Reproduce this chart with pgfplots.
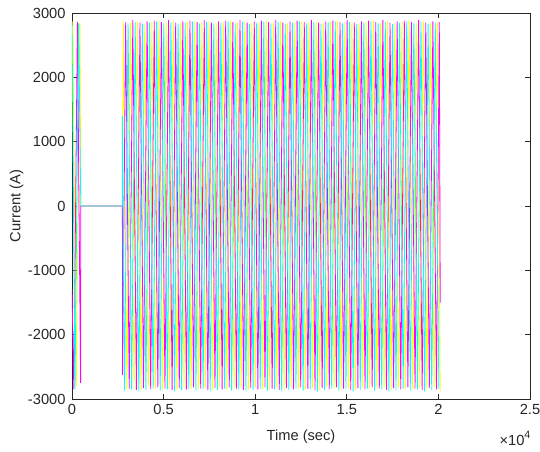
\documentclass[border=0pt]{standalone}
\usepackage{pgfplots}
\pgfplotsset{compat=1.18}
\usepackage{fontspec}
\setmainfont{Liberation Sans}
\definecolor{axgray}{rgb}{0.15,0.15,0.15}
\definecolor{phA}{rgb}{1,1,0}
\definecolor{phB}{rgb}{1,0,1}
\definecolor{phC}{rgb}{0,1,1}
\begin{document}
\fontsize{11}{13}\selectfont
\begin{tikzpicture}
\useasboundingbox (-54pt,-39pt) rectangle (351pt,299.25pt);
\begin{axis}[
  at={(0,0)}, anchor=south west,
  scale only axis, width=343.5pt, height=289.5pt,
  xmin=0, xmax=25000, ymin=-3000, ymax=3000,
  xtick={0,5000,10000,15000,20000,25000},
  xticklabels={0,0.5,1,1.5,2,2.5},
  ytick={-3000,-2000,-1000,0,1000,2000,3000},
  yticklabels={-3000,-2000,-1000,0,1000,2000,3000},
  scaled x ticks=false,
  tick align=inside, major tick length=4pt,
  axis line style={axgray, line width=0.5pt},
  every tick/.style={axgray, line width=0.5pt},
  tick label style={text=axgray, font=\fontsize{11}{13}\selectfont},
  yticklabel style={xshift=-1pt},
  label style={text=axgray, font=\fontsize{11}{13}\selectfont},
  xlabel={Time (sec)}, ylabel={Current (A)},
  xlabel style={at={([yshift=-28.5pt]axis description cs:0.5,0)}, anchor=center},
  ylabel style={at={([xshift=-41.5pt]axis description cs:0,0.5)}, anchor=center},
]
% phase a
\addplot[phA, line width=0.6pt] coordinates {
(0,2200)(40,2870)(235,-2800)(430,2850)(480,0)(2750,0)
(2800,2880)(2995,-2850)(3190,2850)(3385,-2830)(3580,2870)(3775,-2860)
(3970,2840)(4165,-2820)(4360,2860)(4555,-2845)(4750,2880)(4945,-2850)
(5140,2850)(5335,-2830)(5530,2870)(5725,-2860)(5920,2840)(6115,-2820)
(6310,2860)(6505,-2845)(6700,2880)(6895,-2850)(7090,2850)(7285,-2830)
(7480,2870)(7675,-2860)(7870,2840)(8065,-2820)(8260,2860)(8455,-2845)
(8650,2880)(8845,-2850)(9040,2850)(9235,-2830)(9430,2870)(9625,-2860)
(9820,2840)(10015,-2820)(10210,2860)(10405,-2845)(10600,2880)(10795,-2850)
(10990,2850)(11185,-2830)(11380,2870)(11575,-2860)(11770,2840)(11965,-2820)
(12160,2860)(12355,-2845)(12550,2880)(12745,-2850)(12940,2850)(13135,-2830)
(13330,2870)(13525,-2860)(13720,2840)(13915,-2820)(14110,2860)(14305,-2845)
(14500,2880)(14695,-2850)(14890,2850)(15085,-2830)(15280,2870)(15475,-2860)
(15670,2840)(15865,-2820)(16060,2860)(16255,-2845)(16450,2880)(16645,-2850)
(16840,2850)(17035,-2830)(17230,2870)(17425,-2860)(17620,2840)(17815,-2820)
(18010,2860)(18205,-2845)(18400,2880)(18595,-2850)(18790,2850)(18985,-2830)
(19180,2870)(19375,-2860)(19570,2840)(19765,-2820)(19960,2860)(20100,-2880)
};
% phase b
\addplot[phB, line width=0.6pt] coordinates {
(0,-1300)(100,-2850)(295,2860)(470,-2750)(480,0)(2750,0)(2760,-2630)
(2930,2860)(3125,-2840)(3320,2890)(3515,-2860)(3710,2850)(3905,-2830)
(4100,2870)(4295,-2850)(4490,2880)(4685,-2820)(4880,2860)(5075,-2840)
(5270,2890)(5465,-2860)(5660,2850)(5855,-2830)(6050,2870)(6245,-2850)
(6440,2880)(6635,-2820)(6830,2860)(7025,-2840)(7220,2890)(7415,-2860)
(7610,2850)(7805,-2830)(8000,2870)(8195,-2850)(8390,2880)(8585,-2820)
(8780,2860)(8975,-2840)(9170,2890)(9365,-2860)(9560,2850)(9755,-2830)
(9950,2870)(10145,-2850)(10340,2880)(10535,-2820)(10730,2860)(10925,-2840)
(11120,2890)(11315,-2860)(11510,2850)(11705,-2830)(11900,2870)(12095,-2850)
(12290,2880)(12485,-2820)(12680,2860)(12875,-2840)(13070,2890)(13265,-2860)
(13460,2850)(13655,-2830)(13850,2870)(14045,-2850)(14240,2880)(14435,-2820)
(14630,2860)(14825,-2840)(15020,2890)(15215,-2860)(15410,2850)(15605,-2830)
(15800,2870)(15995,-2850)(16190,2880)(16385,-2820)(16580,2860)(16775,-2840)
(16970,2890)(17165,-2860)(17360,2850)(17555,-2830)(17750,2870)(17945,-2850)
(18140,2880)(18335,-2820)(18530,2860)(18725,-2840)(18920,2890)(19115,-2860)
(19310,2850)(19505,-2830)(19700,2870)(19895,-2850)(20050,2860)(20100,-1500)
};
% phase c
\addplot[phC, line width=0.6pt] coordinates {
(0,2850)(165,-2850)(360,2840)(480,0)(2750,0)(2750,1400)
(2865,-2870)(3060,2840)(3255,-2850)(3450,2860)(3645,-2880)(3840,2830)
(4035,-2860)(4230,2850)(4425,-2840)(4620,2870)(4815,-2870)(5010,2840)
(5205,-2850)(5400,2860)(5595,-2880)(5790,2830)(5985,-2860)(6180,2850)
(6375,-2840)(6570,2870)(6765,-2870)(6960,2840)(7155,-2850)(7350,2860)
(7545,-2880)(7740,2830)(7935,-2860)(8130,2850)(8325,-2840)(8520,2870)
(8715,-2870)(8910,2840)(9105,-2850)(9300,2860)(9495,-2880)(9690,2830)
(9885,-2860)(10080,2850)(10275,-2840)(10470,2870)(10665,-2870)(10860,2840)
(11055,-2850)(11250,2860)(11445,-2880)(11640,2830)(11835,-2860)(12030,2850)
(12225,-2840)(12420,2870)(12615,-2870)(12810,2840)(13005,-2850)(13200,2860)
(13395,-2880)(13590,2830)(13785,-2860)(13980,2850)(14175,-2840)(14370,2870)
(14565,-2870)(14760,2840)(14955,-2850)(15150,2860)(15345,-2880)(15540,2830)
(15735,-2860)(15930,2850)(16125,-2840)(16320,2870)(16515,-2870)(16710,2840)
(16905,-2850)(17100,2860)(17295,-2880)(17490,2830)(17685,-2860)(17880,2850)
(18075,-2840)(18270,2870)(18465,-2870)(18660,2840)(18855,-2850)(19050,2860)
(19245,-2880)(19440,2830)(19635,-2860)(19830,2850)(20025,-2840)
};
\end{axis}
\node[anchor=base east, text=axgray, inner sep=0pt, font=\fontsize{11}{13}\selectfont] at (344pt,-34.5pt) {×10\raisebox{0.45em}{\fontsize{8}{9}\selectfont 4}};
\end{tikzpicture}
\end{document}
